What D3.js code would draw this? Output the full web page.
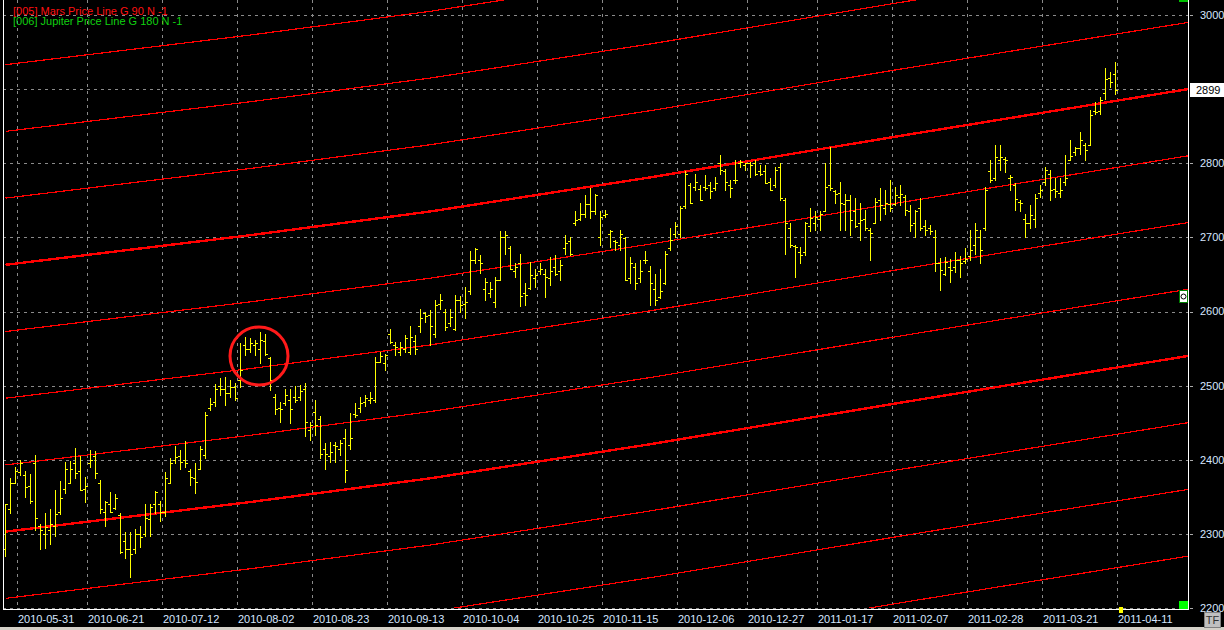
<!DOCTYPE html>
<html>
<head>
<meta charset="utf-8">
<script src="https://cdn.jsdelivr.net/npm/d3@7"></script>
<style>
  body { margin: 0; background: #000; overflow: hidden; }
  text { font-family: "Liberation Sans", Arial, sans-serif; }
</style>
</head>
<body>
<svg id="chart" width="1224" height="630"></svg>
<script>
// daily OHLC bars, index 0 = first bar on the left
var opens = [2280,2333,2369,2384,2380,2365,2395,2310,2300,2305,2310,2330,2360,2368,2395,2385,2360,2395,2405,2369,
  2330,2340,2335,2325,2290,2280,2280,2300,2300,2320,2340,2340,2330,2368,2400,2405,2400,2385,2375,2387,
  2406,2470,2478,2500,2495,2490,2498,2507,2555,2550,2555,2550,2560,2537,2485,2470,2476,2480,2485,2485,
  2495,2440,2465,2455,2415,2405,2420,2415,2430,2420,2462,2470,2478,2480,2480,2532,2530,2570,2555,2545,
  2550,2546,2560,2580,2598,2595,2570,2610,2600,2585,2577,2615,2610,2627,2670,2670,2630,2625,2613,2643,
  2700,2685,2655,2665,2625,2632,2645,2655,2650,2645,2660,2655,2685,2695,2720,2725,2732,2745,2735,2700,
  2730,2705,2695,2690,2699,2645,2660,2645,2670,2655,2630,2620,2638,2685,2705,2705,2742,2770,2768,2765,
  2768,2770,2766,2800,2790,2770,2778,2800,2798,2800,2800,2790,2790,2775,2770,2795,2750,2712,2688,2680,
  2680,2715,2720,2725,2735,2770,2762,2760,2745,2750,2735,2720,2725,2710,2720,2750,2740,2745,2745,2755,
  2755,2735,2720,2740,2715,2712,2701,2665,2650,2660,2660,2670,2668,2675,2690,2700,2712,2790,2780,2805,
  2806,2780,2770,2748,2725,2720,2725,2760,2775,2785,2765,2760,2775,2805,2815,2820,2825,2825,2870,2870,
  2895,2915,2920];
var highs = [2340,2375,2390,2399,2385,2381,2406,2313,2328,2334,2359,2371,2397,2398,2416,2405,2377,2413,2412,2373,
  2344,2357,2354,2328,2303,2303,2306,2310,2340,2340,2358,2345,2384,2403,2418,2413,2425,2388,2395,2418,
  2465,2483,2502,2510,2511,2508,2503,2558,2566,2564,2562,2573,2570,2538,2489,2478,2496,2495,2499,2501,
  2503,2451,2481,2459,2422,2424,2424,2426,2442,2463,2476,2485,2487,2492,2539,2546,2543,2577,2559,2559,
  2568,2580,2568,2604,2600,2602,2615,2623,2604,2604,2622,2621,2633,2681,2685,2676,2645,2640,2647,2708,
  2708,2688,2665,2678,2638,2667,2658,2665,2657,2674,2676,2669,2703,2701,2735,2746,2757,2766,2759,2735,
  2737,2710,2696,2710,2701,2674,2665,2669,2681,2661,2651,2658,2681,2712,2721,2742,2789,2773,2786,2771,
  2784,2775,2782,2811,2792,2777,2804,2804,2800,2802,2804,2798,2798,2780,2795,2800,2753,2719,2690,2687,
  2721,2739,2735,2735,2800,2822,2764,2775,2759,2757,2753,2746,2737,2712,2753,2766,2764,2777,2768,2771,
  2757,2744,2737,2753,2723,2717,2710,2672,2674,2671,2680,2675,2685,2710,2719,2710,2768,2804,2824,2824,
  2809,2784,2773,2750,2732,2744,2759,2771,2795,2791,2780,2780,2811,2831,2822,2842,2827,2872,2883,2890,
  2928,2923,2937];
var lows = [2270,2328,2368,2379,2350,2341,2305,2279,2281,2287,2297,2327,2355,2368,2375,2359,2343,2390,2376,2328,
  2310,2330,2333,2274,2268,2242,2274,2282,2297,2297,2328,2318,2324,2368,2395,2387,2390,2366,2355,2387,
  2402,2467,2472,2487,2474,2485,2481,2498,2541,2546,2541,2530,2541,2494,2462,2451,2474,2449,2478,2480,
  2432,2426,2433,2402,2388,2397,2397,2406,2370,2415,2458,2465,2472,2476,2478,2532,2521,2557,2541,2541,
  2546,2543,2543,2573,2586,2555,2566,2603,2575,2580,2575,2600,2591,2623,2665,2652,2615,2620,2606,2643,
  2678,2657,2647,2607,2609,2630,2633,2651,2620,2636,2649,2643,2678,2676,2717,2723,2728,2726,2732,2690,
  2728,2687,2683,2683,2642,2638,2631,2640,2666,2609,2609,2618,2637,2683,2701,2701,2739,2746,2764,2750,
  2764,2753,2764,2786,2764,2755,2773,2795,2791,2782,2784,2784,2773,2764,2768,2750,2678,2687,2647,2665,
  2676,2708,2710,2710,2735,2764,2746,2710,2710,2703,2714,2696,2710,2669,2719,2723,2732,2735,2744,2744,
  2730,2708,2701,2710,2703,2705,2654,2629,2649,2640,2653,2647,2665,2669,2678,2665,2710,2775,2777,2791,
  2788,2764,2737,2735,2701,2712,2714,2755,2771,2750,2755,2755,2771,2804,2811,2813,2804,2825,2867,2867,
  2887,2903,2894];
var closes = [2340,2369,2385,2395,2363,2344,2322,2305,2309,2313,2327,2348,2387,2387,2382,2359,2364,2399,2382,2333,
  2343,2330,2348,2276,2279,2273,2300,2296,2322,2336,2357,2330,2375,2395,2404,2397,2395,2377,2370,2415,
  2460,2475,2496,2496,2490,2498,2483,2521,2549,2558,2558,2562,2543,2508,2468,2469,2487,2468,2481,2493,
  2451,2447,2447,2408,2408,2411,2418,2422,2386,2430,2460,2476,2483,2483,2532,2540,2541,2559,2552,2552,
  2564,2566,2550,2591,2594,2580,2609,2615,2579,2592,2615,2609,2613,2670,2684,2665,2640,2631,2642,2701,
  2703,2658,2660,2621,2622,2649,2649,2658,2646,2654,2651,2663,2692,2678,2724,2732,2745,2735,2757,2728,
  2732,2708,2694,2705,2642,2666,2638,2654,2669,2638,2615,2627,2678,2696,2715,2739,2785,2746,2775,2750,
  2766,2762,2774,2791,2775,2766,2777,2802,2800,2798,2786,2786,2774,2764,2791,2753,2719,2690,2687,2676,
  2719,2726,2728,2732,2768,2766,2759,2746,2750,2723,2715,2723,2712,2706,2748,2744,2746,2739,2757,2759,
  2737,2717,2735,2712,2710,2708,2665,2656,2667,2656,2669,2665,2671,2683,2710,2683,2764,2777,2809,2809,
  2804,2782,2752,2746,2719,2730,2753,2764,2791,2764,2762,2764,2780,2810,2820,2831,2818,2865,2869,2885,
  2914,2910,2899];

// date labels on the time axis and the bar index they sit on
var dateLabels = ["2010-05-31","2010-06-21","2010-07-12","2010-08-02","2010-08-23","2010-09-13","2010-10-04",
  "2010-10-25","2010-11-15","2010-12-06","2010-12-27","2011-01-17","2011-02-07","2011-02-28","2011-03-21","2011-04-11"];
var dateIdx = [2,16,31,46,61,76,91,106,119,134,148,162,177,192,207,222];

var priceTicks = [2200,2300,2400,2500,2600,2700,2800,2900,3000];
var lastPrice = 2899;

// Mars price line (G 90): base line, repeated every 90 points
var baseIdx = [0, 49, 85, 129, 179, 236.5];
var baseVal = [2663, 2703, 2735, 2781, 2837, 2900];
var lineOffsets = [-7,-6,-5,-4,-3,-2,-1,0,1,2,3];
var lineStep = 90;

var svg = d3.select("#chart");
var plotLeft = 3, plotRight = 1188, plotTop = 0, plotBottom = 608;

svg.append("rect").attr("width", 1224).attr("height", 630).attr("fill", "#000");

var x = d3.scaleLinear().domain([0, 236.5]).range([5.5, plotRight]);
var y = d3.scaleLinear().domain([2200, 3000]).range([plotBottom, 15]);

svg.append("defs").append("clipPath").attr("id", "plotclip")
  .append("rect").attr("x", plotLeft).attr("y", plotTop)
  .attr("width", plotRight - plotLeft).attr("height", plotBottom - plotTop);

// grid
var grid = svg.append("g").attr("stroke", "#8a8a8a").attr("stroke-dasharray", "3,4")
  .attr("shape-rendering", "crispEdges");
grid.selectAll(".hg").data(priceTicks).enter().append("line")
  .attr("x1", plotLeft).attr("x2", plotRight)
  .attr("y1", function(d) { return Math.round(y(d)) + 0.5; })
  .attr("y2", function(d) { return Math.round(y(d)) + 0.5; });
grid.selectAll(".vg").data(dateIdx).enter().append("line")
  .attr("y1", plotTop).attr("y2", plotBottom + 1)
  .attr("x1", function(d) { return Math.round(x(d) + 1.8) + 0.5; })
  .attr("x2", function(d) { return Math.round(x(d) + 1.8) + 0.5; });

// price lines
var lines = svg.append("g").attr("clip-path", "url(#plotclip)");
var pts = baseIdx.map(function(d, i) { return [d, baseVal[i]]; });
lineOffsets.forEach(function(k) {
  var thick = (k % 4 === 0);
  var line = d3.line()
    .x(function(p) { return x(p[0]); })
    .y(function(p) { return y(p[1] + k * lineStep); });
  lines.append("path")
    .attr("d", line(pts))
    .attr("fill", "none")
    .attr("stroke", "#ff0000")
    .attr("stroke-width", thick ? 2.4 : 1.2)
    .attr("shape-rendering", "crispEdges");
});

// OHLC bars
var bars = svg.append("g").attr("stroke", "#ffff00").attr("stroke-width", 1)
  .attr("shape-rendering", "crispEdges");
var py = function(v) { return Math.round(y(v)) + 0.5; };
closes.forEach(function(c, i) {
  var bx = x(i);
  bars.append("line").attr("x1", bx).attr("x2", bx).attr("y1", py(highs[i]) - 0.5).attr("y2", py(lows[i]) + 0.5);
  bars.append("line").attr("x1", bx - 2.5).attr("x2", bx).attr("y1", py(opens[i])).attr("y2", py(opens[i]));
  bars.append("line").attr("x1", bx).attr("x2", bx + 2.5).attr("y1", py(c)).attr("y2", py(c));
});

// annotation circle
svg.append("circle").attr("cx", x(50.7)).attr("cy", y(2540)).attr("r", 29)
  .attr("fill", "none").attr("stroke", "#ff1a1a").attr("stroke-width", 3);

// frame
var frame = svg.append("g").attr("stroke", "#fff").attr("shape-rendering", "crispEdges");
frame.append("line").attr("x1", plotLeft + 0.5).attr("x2", plotLeft + 0.5).attr("y1", 0).attr("y2", plotBottom + 2);
frame.append("line").attr("x1", plotRight + 0.5).attr("x2", plotRight + 0.5).attr("y1", 0).attr("y2", plotBottom + 2);
frame.append("line").attr("x1", plotLeft).attr("x2", plotRight + 1)
  .attr("y1", plotBottom + 1.5).attr("y2", plotBottom + 1.5);

// right price axis (the 2900 label sits under the last-price box)
var yAxis = svg.append("g");
yAxis.selectAll(".tk").data(priceTicks).enter().append("line")
  .attr("x1", plotRight + 2).attr("x2", plotRight + 5)
  .attr("y1", function(d) { return py(d); }).attr("y2", function(d) { return py(d); })
  .attr("stroke", "#aaa").attr("shape-rendering", "crispEdges");
yAxis.selectAll(".lb").data(priceTicks.filter(function(d) { return Math.abs(d - lastPrice) > 20; }))
  .enter().append("text")
  .attr("x", 1200).attr("y", function(d) { return y(d); }).attr("dy", "0.36em")
  .attr("font-size", 11).attr("fill", "#d6e6ff")
  .text(function(d) { return d; });

// last price box
svg.append("rect").attr("x", 1190).attr("y", Math.round(y(lastPrice)) - 7).attr("width", 34).attr("height", 14)
  .attr("fill", "#fff");
svg.append("text").attr("x", 1196).attr("y", y(lastPrice)).attr("dy", "0.36em")
  .attr("font-size", 11).attr("fill", "#000").text(lastPrice);

// date labels
svg.selectAll(".dl").data(dateIdx).enter().append("text")
  .attr("x", function(d) { return Math.round(x(d) + 1.8) + 1; })
  .attr("y", 623)
  .attr("font-size", 11).attr("fill", "#d6e6ff")
  .text(function(d, i) { return dateLabels[i]; });

// small markers
svg.append("rect").attr("x", Math.round(x(222)) + 3).attr("y", 607).attr("width", 4).attr("height", 6).attr("fill", "#ffff00");
svg.append("rect").attr("x", 1179).attr("y", 601).attr("width", 9).attr("height", 8).attr("fill", "#00ff00");
svg.append("rect").attr("x", 1179).attr("y", 0).attr("width", 9).attr("height", 2).attr("fill", "#00c000");
svg.append("rect").attr("x", 1179.5).attr("y", 290.5).attr("width", 8).attr("height", 12)
  .attr("fill", "#fff").attr("stroke", "#008000");
svg.append("circle").attr("cx", 1183.5).attr("cy", 296.5).attr("r", 2.5).attr("fill", "none").attr("stroke", "#000");

// bottom strip and TF box
svg.append("rect").attr("x", 0).attr("y", 627).attr("width", 1224).attr("height", 3).attr("fill", "#d4d0c8");
svg.append("rect").attr("x", 1204.5).attr("y", 612.5).attr("width", 16).attr("height", 15)
  .attr("fill", "#c0c0c0").attr("stroke", "#808080");
svg.append("text").attr("x", 1212.5).attr("y", 624).attr("text-anchor", "middle")
  .attr("font-size", 11).attr("fill", "#303030").text("TF");

// legend
svg.append("text").attr("x", 13).attr("y", 15).attr("font-size", 11).attr("fill", "#ff1010")
  .text("[005] Mars Price Line G 90 N -1");
svg.append("text").attr("x", 13).attr("y", 25).attr("font-size", 11).attr("fill", "#10d010")
  .text("[006] Jupiter Price Line G 180 N -1");
</script>
</body>
</html>
